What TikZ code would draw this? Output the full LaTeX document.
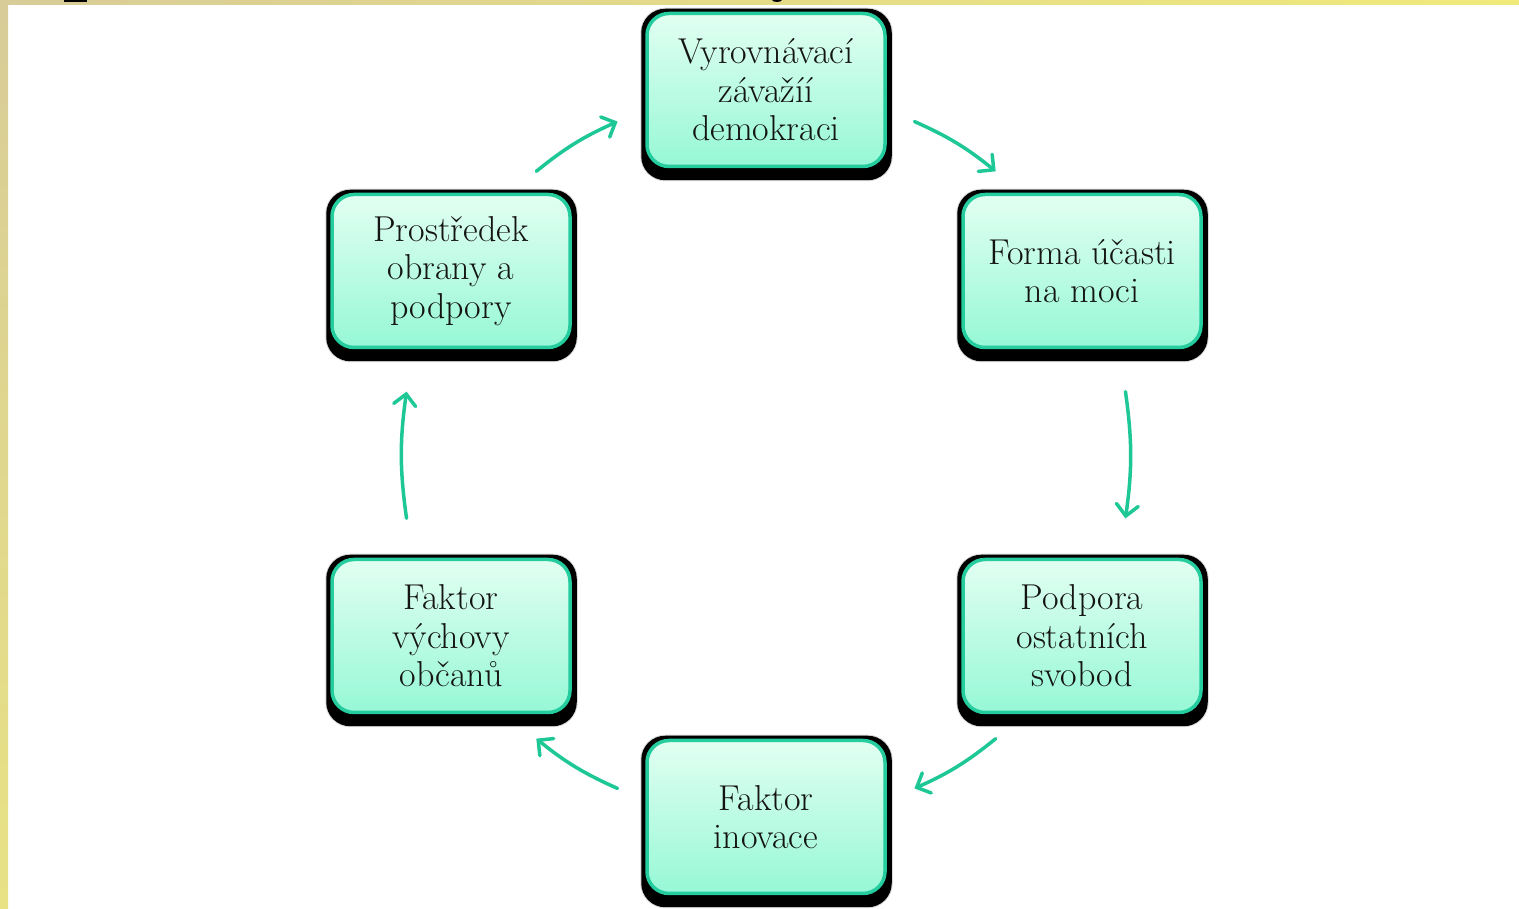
\documentclass[tikz,border=0pt]{standalone}
\usepackage{fontspec}
\usetikzlibrary{arrows.meta,backgrounds}
\definecolor{tealline}{RGB}{36,204,158}
\definecolor{arrowc}{RGB}{30,200,150}
\definecolor{filltop}{RGB}{226,255,242}
\definecolor{fillbot}{RGB}{150,248,214}
\definecolor{tan}{RGB}{216,204,152}
\definecolor{yel}{RGB}{240,234,122}
\definecolor{yelbot}{RGB}{232,226,132}
\definecolor{txt}{RGB}{20,20,20}
\tikzset{
  cbox/.style={rectangle, rounded corners=22pt, minimum width=238pt, minimum height=153pt,
    draw=tealline, line width=3.5pt, top color=filltop, bottom color=fillbot,
    align=center, text=txt, font=\fontsize{36}{38.5}\selectfont, inner sep=0pt},
  cyc/.style={draw=arrowc, line width=3.5pt, line cap=round,
    -{Straight Barb[length=11pt,width=22pt,line cap=round]}},
  shadowfill/.style={fill=black, rounded corners=24pt}
}
\begin{document}
\begin{tikzpicture}[x=1pt,y=1pt]
\useasboundingbox (0,0) rectangle (1519,909);
% boxes
\node[cbox] (top) at (766,819) {Vyrovnávací\\závažíí\\demokraci};
\node[cbox] (ur) at (1082,638) {Forma účasti\\na moci};
\node[cbox] (lr) at (1082,273) {Podpora\\ostatních\\svobod};
\node[cbox] (bot) at (766,92) {Faktor\\inovace};
\node[cbox] (ll) at (451,273) {Faktor\\výchovy\\občanů};
\node[cbox] (ul) at (451,638) {Prostředek\\obrany a\\podpory};
\begin{scope}[on background layer]
  \fill[white] (0,0) rectangle (1519,909);
  \shade[top color=tan, bottom color=yelbot] (0,0) rectangle (8,909);
  \shade[left color=tan, right color=yel] (0,904) rectangle (1519,909);
  \fill[black] (64,906.5) rectangle (87,909);
  \fill[black] (777,909) ellipse [x radius=5, y radius=2];
  \foreach \n in {top,ur,lr,bot,ll,ul}{
    \fill[black, opacity=0.15, rounded corners=25pt] ([xshift=-5pt,yshift=4pt]\n.north west) rectangle ([xshift=6pt,yshift=-13pt]\n.south east);
    \fill[shadowfill] ([xshift=-4pt,yshift=3pt]\n.north west) rectangle ([xshift=5pt,yshift=-12pt]\n.south east);
  }
\end{scope}
% arrow end points on a circle around the cycle centre
\coordinate (cen) at (766,454);
\coordinate (a1s) at ([shift={(66:365)}]cen);
\coordinate (a1e) at ([shift={(51:365)}]cen);
\coordinate (a2s) at ([shift={(10:365)}]cen);
\coordinate (a2e) at ([shift={(-10:365)}]cen);
\coordinate (a3s) at ([shift={(-51:365)}]cen);
\coordinate (a3e) at ([shift={(-66:365)}]cen);
\coordinate (a4s) at ([shift={(-114:365)}]cen);
\coordinate (a4e) at ([shift={(-129:365)}]cen);
\coordinate (a5s) at ([shift={(-170:365)}]cen);
\coordinate (a5e) at ([shift={(170:365)}]cen);
\coordinate (a6s) at ([shift={(129:365)}]cen);
\coordinate (a6e) at ([shift={(114:365)}]cen);
\draw[cyc] (a1s) to[bend left=7.5] (a1e);
\draw[cyc] (a2s) to[bend left=8] (a2e);
\draw[cyc] (a3s) to[bend left=7.5] (a3e);
\draw[cyc] (a4s) to[bend left=7.5] (a4e);
\draw[cyc] (a5s) to[bend left=8] (a5e);
\draw[cyc] (a6s) to[bend left=7.5] (a6e);
\end{tikzpicture}
\end{document}
